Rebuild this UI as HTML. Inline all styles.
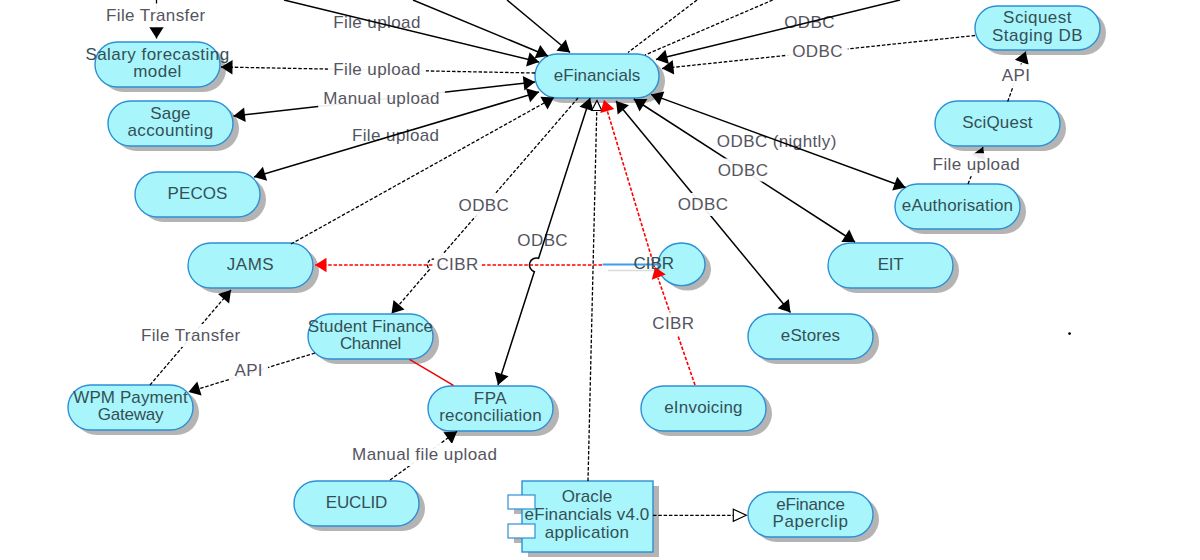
<!DOCTYPE html>
<html><head><meta charset="utf-8"><style>
html,body{margin:0;padding:0;background:#fff;width:1200px;height:560px;overflow:hidden}
svg{display:block}
text{font-family:"Liberation Sans",sans-serif;font-size:17px;stroke-width:0px}
</style></head><body>
<svg width="1200" height="560" viewBox="0 0 1200 560">
<rect width="1200" height="560" fill="#fff"/>
<rect x="101" y="47" width="125" height="45" rx="22.5" ry="22.5" fill="#b4b4b4"/>
<rect x="114" y="106" width="125" height="45" rx="22.5" ry="22.5" fill="#b4b4b4"/>
<rect x="141" y="177" width="125" height="45" rx="22.5" ry="22.5" fill="#b4b4b4"/>
<rect x="194" y="248" width="125" height="45" rx="22.5" ry="22.5" fill="#b4b4b4"/>
<rect x="74" y="390" width="125" height="45" rx="22.5" ry="22.5" fill="#b4b4b4"/>
<rect x="314" y="319" width="125" height="45" rx="22.5" ry="22.5" fill="#b4b4b4"/>
<rect x="434" y="391" width="125" height="45" rx="22.5" ry="22.5" fill="#b4b4b4"/>
<rect x="300" y="486" width="125" height="45" rx="22.5" ry="22.5" fill="#b4b4b4"/>
<rect x="541" y="59" width="124" height="44" rx="22.0" ry="22.0" fill="#b4b4b4"/>
<rect x="647" y="391" width="125" height="45" rx="22.5" ry="22.5" fill="#b4b4b4"/>
<rect x="754" y="319" width="125" height="45" rx="22.5" ry="22.5" fill="#b4b4b4"/>
<rect x="834" y="248" width="125" height="45" rx="22.5" ry="22.5" fill="#b4b4b4"/>
<rect x="901" y="189" width="125" height="45" rx="22.5" ry="22.5" fill="#b4b4b4"/>
<rect x="941" y="106" width="125" height="45" rx="22.5" ry="22.5" fill="#b4b4b4"/>
<rect x="981" y="11" width="125" height="44" rx="22.0" ry="22.0" fill="#b4b4b4"/>
<rect x="754" y="497" width="125" height="45" rx="22.5" ry="22.5" fill="#b4b4b4"/>
<ellipse cx="687.5" cy="269.3" rx="23.5" ry="21.3" fill="#b4b4b4"/>
<rect x="528" y="486" width="131" height="71" fill="#b4b4b4"/>
<rect x="514" y="500" width="27" height="14" fill="#b4b4b4"/>
<rect x="514" y="529" width="27" height="14" fill="#b4b4b4"/>
<rect x="95" y="42" width="125" height="45" rx="22.5" ry="22.5" fill="#a8f6fc" stroke="#2d8fd5" stroke-width="1.4"/>
<rect x="108" y="101" width="125" height="45" rx="22.5" ry="22.5" fill="#a8f6fc" stroke="#2d8fd5" stroke-width="1.4"/>
<rect x="135" y="172" width="125" height="45" rx="22.5" ry="22.5" fill="#a8f6fc" stroke="#2d8fd5" stroke-width="1.4"/>
<rect x="188" y="243" width="125" height="45" rx="22.5" ry="22.5" fill="#a8f6fc" stroke="#2d8fd5" stroke-width="1.4"/>
<rect x="68" y="385" width="125" height="45" rx="22.5" ry="22.5" fill="#a8f6fc" stroke="#2d8fd5" stroke-width="1.4"/>
<rect x="308" y="314" width="125" height="45" rx="22.5" ry="22.5" fill="#a8f6fc" stroke="#2d8fd5" stroke-width="1.4"/>
<rect x="428" y="386" width="125" height="45" rx="22.5" ry="22.5" fill="#a8f6fc" stroke="#2d8fd5" stroke-width="1.4"/>
<rect x="294" y="481" width="125" height="45" rx="22.5" ry="22.5" fill="#a8f6fc" stroke="#2d8fd5" stroke-width="1.4"/>
<rect x="535" y="54" width="124" height="44" rx="22.0" ry="22.0" fill="#a8f6fc" stroke="#2d8fd5" stroke-width="1.4"/>
<rect x="641" y="386" width="125" height="45" rx="22.5" ry="22.5" fill="#a8f6fc" stroke="#2d8fd5" stroke-width="1.4"/>
<rect x="748" y="314" width="125" height="45" rx="22.5" ry="22.5" fill="#a8f6fc" stroke="#2d8fd5" stroke-width="1.4"/>
<rect x="828" y="243" width="125" height="45" rx="22.5" ry="22.5" fill="#a8f6fc" stroke="#2d8fd5" stroke-width="1.4"/>
<rect x="895" y="184" width="125" height="45" rx="22.5" ry="22.5" fill="#a8f6fc" stroke="#2d8fd5" stroke-width="1.4"/>
<rect x="935" y="101" width="125" height="45" rx="22.5" ry="22.5" fill="#a8f6fc" stroke="#2d8fd5" stroke-width="1.4"/>
<rect x="975" y="6" width="125" height="44" rx="22.0" ry="22.0" fill="#a8f6fc" stroke="#2d8fd5" stroke-width="1.4"/>
<rect x="748" y="492" width="125" height="45" rx="22.5" ry="22.5" fill="#a8f6fc" stroke="#2d8fd5" stroke-width="1.4"/>
<ellipse cx="681.5" cy="264.3" rx="23.5" ry="21.3" fill="#a8f6fc" stroke="#2d8fd5" stroke-width="1.4"/>
<rect x="522" y="481" width="131" height="71" fill="#a8f6fc" stroke="#2d8fd5" stroke-width="1.4"/>
<rect x="508" y="495" width="27" height="14" fill="#fff" stroke="#2d8fd5" stroke-width="1.2"/>
<rect x="508" y="524" width="27" height="14" fill="#fff" stroke="#2d8fd5" stroke-width="1.2"/>
<path d="M413,0 L548,56" stroke="#000" stroke-width="1.5" fill="none"/>
<path d="M507,0 L570,52.5" stroke="#000" stroke-width="1.5" fill="none"/>
<path d="M535,73 L221,67" stroke="#000" stroke-width="1.3" fill="none" stroke-dasharray="3.5 1.8"/>
<path d="M535,82 L233.5,116" stroke="#000" stroke-width="1.5" fill="none"/>
<path d="M291,244 L554,97.5" stroke="#000" stroke-width="1.3" fill="none" stroke-dasharray="3.5 1.8"/>
<path d="M578,98 L437.40,260.46 A6,6 0 0 0 429.55,269.54 L391.5,313.5" stroke="#000" stroke-width="1.3" fill="none" stroke-dasharray="3.5 1.8"/>
<path d="M588,481 L597,100.4" stroke="#000" stroke-width="1.3" fill="none" stroke-dasharray="3.5 1.8"/>
<path d="M656,272 L604,100" stroke="#f00" stroke-width="1.6" fill="none" stroke-dasharray="3.5 1.8"/>
<path d="M695,385 L658,278" stroke="#f00" stroke-width="1.6" fill="none" stroke-dasharray="3.5 1.8"/>
<path d="M616,101 L790.5,312.5" stroke="#000" stroke-width="1.5" fill="none"/>
<path d="M633.8,99 L855,242" stroke="#000" stroke-width="1.5" fill="none"/>
<path d="M975,35.5 L662,68.5" stroke="#000" stroke-width="1.3" fill="none" stroke-dasharray="3.5 1.8"/>
<path d="M697,0 L628,52.5" stroke="#000" stroke-width="1.3" fill="none" stroke-dasharray="3.5 1.8"/>
<path d="M772.7,0 L645,55" stroke="#000" stroke-width="1.3" fill="none" stroke-dasharray="3.5 1.8"/>
<path d="M1007.7,101.6 L1025.7,51.4" stroke="#000" stroke-width="1.3" fill="none" stroke-dasharray="3.5 1.8"/>
<path d="M968,184 L983,147" stroke="#000" stroke-width="1.3" fill="none" stroke-dasharray="3.5 1.8"/>
<path d="M602,265 L315,265" stroke="#f00" stroke-width="1.6" fill="none" stroke-dasharray="3.5 1.8"/>
<path d="M608,270.5 L662,270.5" stroke="#dcdcdc" stroke-width="1.6"/>
<path d="M602.6,264.5 L658,264.5" stroke="#3aa0e8" stroke-width="2" fill="none"/>
<path d="M150,385 L231,290" stroke="#000" stroke-width="1.3" fill="none" stroke-dasharray="3.5 1.8"/>
<path d="M315,353 L188.5,392" stroke="#000" stroke-width="1.3" fill="none" stroke-dasharray="3.5 1.8"/>
<path d="M409.5,359.3 L453.4,385.4" stroke="#e00" stroke-width="1.4" fill="none"/>
<path d="M390,480 L457,431.4" stroke="#000" stroke-width="1.3" fill="none" stroke-dasharray="3.5 1.8"/>
<path d="M653,515.3 L733.5,515.3" stroke="#000" stroke-width="1.3" fill="none" stroke-dasharray="3.5 1.8"/>
<path d="M156.5,0 L156.5,38.6" stroke="#000" stroke-width="1.3" fill="none" stroke-dasharray="3.5 1.8"/>
<polygon points="597.0,100.4 601.8,110.5 591.8,110.3" fill="#fff" stroke="#000" stroke-width="1.2"/>
<polygon points="539.0,62.0 526.1,66.4 529.6,52.2" fill="#000"/>
<polygon points="548.0,56.0 534.6,58.3 540.2,44.9" fill="#000"/>
<polygon points="570.0,52.5 556.5,50.7 565.8,39.5" fill="#000"/>
<polygon points="221.0,67.0 232.6,59.9 232.4,74.5" fill="#000"/>
<polygon points="535.0,82.0 524.4,90.5 522.8,76.0" fill="#000"/>
<polygon points="233.5,116.0 244.1,107.5 245.7,122.0" fill="#000"/>
<polygon points="539.0,92.0 530.1,102.3 525.9,88.3" fill="#000"/>
<polygon points="254.0,177.0 262.9,166.7 267.1,180.7" fill="#000"/>
<polygon points="554.0,97.5 547.5,109.5 540.4,96.7" fill="#000"/>
<polygon points="391.5,313.5 393.5,300.0 404.5,309.6" fill="#000"/>
<polygon points="590.0,98.0 593.4,111.2 579.5,106.7" fill="#000"/>
<polygon points="498.0,385.0 494.6,371.8 508.5,376.3" fill="#000"/>
<polygon points="604.0,100.0 614.3,108.9 600.3,113.1" fill="#f00"/>
<polygon points="655.2,267.3 665.8,274.6 651.7,279.7" fill="#f00"/>
<polygon points="616.0,101.0 628.9,105.2 617.7,114.5" fill="#000"/>
<polygon points="790.5,312.5 777.6,308.3 788.8,299.0" fill="#000"/>
<polygon points="633.8,99.0 647.4,99.1 639.5,111.4" fill="#000"/>
<polygon points="855.0,242.0 841.4,241.9 849.3,229.6" fill="#000"/>
<polygon points="651.0,94.4 664.3,91.5 659.3,105.2" fill="#000"/>
<polygon points="905.5,187.5 892.2,190.4 897.2,176.7" fill="#000"/>
<polygon points="662.0,68.5 672.7,60.0 674.2,74.6" fill="#000"/>
<polygon points="656.0,59.5 665.4,49.7 668.9,63.9" fill="#000"/>
<polygon points="1025.7,51.4 1028.7,64.7 1014.9,59.8" fill="#000"/>
<polygon points="983.0,147.0 985.4,160.4 971.9,154.9" fill="#000"/>
<polygon points="315.0,265.0 326.5,257.7 326.5,272.3" fill="#f00"/>
<polygon points="231.0,290.0 229.1,303.5 218.0,294.0" fill="#000"/>
<polygon points="188.5,392.0 197.3,381.6 201.6,395.6" fill="#000"/>
<polygon points="457.0,431.4 452.0,444.1 443.4,432.2" fill="#000"/>
<polygon points="746.3,515.3 733.3,521.3 733.3,509.3" fill="#fff" stroke="#000" stroke-width="1.2"/>
<polygon points="156.5,38.6 149.2,27.1 163.8,27.1" fill="#000"/>
<text x="377" y="28" text-anchor="middle" fill="#55555f" letter-spacing="0.4">File upload</text>
<rect x="328.2" y="58" width="97.6" height="23" fill="#fff" fill-opacity="0.93"/>
<text x="377" y="75" text-anchor="middle" fill="#55555f" letter-spacing="0.4">File upload</text>
<rect x="318.2" y="87" width="126.7" height="23" fill="#fff" fill-opacity="0.93"/>
<text x="381.6" y="104" text-anchor="middle" fill="#55555f" letter-spacing="0.4">Manual upload</text>
<text x="395.7" y="140.6" text-anchor="middle" fill="#55555f" letter-spacing="0.4">File upload</text>
<rect x="453.5" y="193.8" width="60.7" height="23" fill="#fff" fill-opacity="0.93"/>
<text x="483.9" y="210.8" text-anchor="middle" fill="#55555f" letter-spacing="0.4">ODBC</text>
<text x="542.7" y="245.7" text-anchor="middle" fill="#55555f" letter-spacing="0.4">ODBC</text>
<rect x="647.3" y="312.3" width="52.2" height="23" fill="#fff" fill-opacity="0.93"/>
<text x="673.4" y="329.3" text-anchor="middle" fill="#55555f" letter-spacing="0.4">CIBR</text>
<rect x="672.6" y="193" width="60.7" height="23" fill="#fff" fill-opacity="0.93"/>
<text x="703" y="210" text-anchor="middle" fill="#55555f" letter-spacing="0.4">ODBC</text>
<rect x="712.6" y="158.5" width="60.7" height="23" fill="#fff" fill-opacity="0.93"/>
<text x="743" y="175.5" text-anchor="middle" fill="#55555f" letter-spacing="0.4">ODBC</text>
<text x="776.8" y="146.6" text-anchor="middle" fill="#55555f" letter-spacing="0.4">ODBC (nightly)</text>
<rect x="787.1" y="40" width="60.7" height="23" fill="#fff" fill-opacity="0.93"/>
<text x="817.5" y="57" text-anchor="middle" fill="#55555f" letter-spacing="0.4">ODBC</text>
<text x="809.6" y="27.7" text-anchor="middle" fill="#55555f" letter-spacing="0.4">ODBC</text>
<rect x="996.7" y="64.4" width="38.6" height="23" fill="#fff" fill-opacity="0.93"/>
<text x="1016" y="81.4" text-anchor="middle" fill="#55555f" letter-spacing="0.4">API</text>
<rect x="927.6" y="153.2" width="97.6" height="23" fill="#fff" fill-opacity="0.93"/>
<text x="976.4" y="170.2" text-anchor="middle" fill="#55555f" letter-spacing="0.4">File upload</text>
<rect x="433.9" y="253" width="47.2" height="23" fill="#fff" fill-opacity="0.93"/>
<text x="457.5" y="270" text-anchor="middle" fill="#55555f" letter-spacing="0.4">CIBR</text>
<rect x="135.9" y="324" width="109.7" height="23" fill="#fff" fill-opacity="0.93"/>
<text x="190.75" y="341" text-anchor="middle" fill="#55555f" letter-spacing="0.4">File Transfer</text>
<rect x="229.4" y="359.3" width="38.6" height="23" fill="#fff" fill-opacity="0.93"/>
<text x="248.7" y="376.3" text-anchor="middle" fill="#55555f" letter-spacing="0.4">API</text>
<rect x="347.1" y="443" width="155.2" height="23" fill="#fff" fill-opacity="0.93"/>
<text x="424.7" y="460" text-anchor="middle" fill="#55555f" letter-spacing="0.4">Manual file upload</text>
<rect x="101.0" y="4.300000000000001" width="109.7" height="23" fill="#fff" fill-opacity="0.93"/>
<text x="155.8" y="21.3" text-anchor="middle" fill="#55555f" letter-spacing="0.4">File Transfer</text>
<path d="M284,0 L539,62" stroke="#000" stroke-width="1.5" fill="none"/>
<path d="M539,92 L254,177" stroke="#000" stroke-width="1.5" fill="none"/>
<path d="M590,98 L538.60,258.33 A7,7 0 0 0 534.33,271.67 L498,385" stroke="#000" stroke-width="1.5" fill="none"/>
<path d="M651,94.4 L905.5,187.5" stroke="#000" stroke-width="1.5" fill="none"/>
<path d="M900,0 L656,59.5" stroke="#000" stroke-width="1.5" fill="none"/>
<text x="157.5" y="59.5" text-anchor="middle" fill="#354f55" letter-spacing="0.45">Salary forecasting</text>
<text x="157.5" y="77.2" text-anchor="middle" fill="#354f55" letter-spacing="0.45">model</text>
<text x="170.5" y="118.5" text-anchor="middle" fill="#354f55" letter-spacing="0.2">Sage</text>
<text x="170.5" y="136.2" text-anchor="middle" fill="#354f55" letter-spacing="0.4">accounting</text>
<text x="197.5" y="199.2" text-anchor="middle" fill="#354f55" letter-spacing="0.05">PECOS</text>
<text x="250.5" y="270.2" text-anchor="middle" fill="#354f55" letter-spacing="0.5">JAMS</text>
<text x="130.5" y="402.5" text-anchor="middle" fill="#354f55" letter-spacing="0.1">WPM Payment</text>
<text x="130.5" y="420.2" text-anchor="middle" fill="#354f55" letter-spacing="-0.2">Gateway</text>
<text x="370.5" y="331.5" text-anchor="middle" fill="#354f55" letter-spacing="0.1">Student Finance</text>
<text x="370.5" y="349.2" text-anchor="middle" fill="#354f55" letter-spacing="-0.3">Channel</text>
<text x="490.5" y="403.5" text-anchor="middle" fill="#354f55" letter-spacing="0.5">FPA</text>
<text x="490.5" y="421.2" text-anchor="middle" fill="#354f55" letter-spacing="0.25">reconciliation</text>
<text x="356.5" y="508.2" text-anchor="middle" fill="#354f55" letter-spacing="-0.15">EUCLID</text>
<text x="597.0" y="80.7" text-anchor="middle" fill="#354f55" letter-spacing="0.05">eFinancials</text>
<text x="703.5" y="413.2" text-anchor="middle" fill="#354f55" letter-spacing="0.2">eInvoicing</text>
<text x="810.5" y="341.2" text-anchor="middle" fill="#354f55" letter-spacing="0.1">eStores</text>
<text x="890.5" y="270.2" text-anchor="middle" fill="#354f55" letter-spacing="-0.3">EIT</text>
<text x="957.5" y="211.2" text-anchor="middle" fill="#354f55" letter-spacing="0.2">eAuthorisation</text>
<text x="997.5" y="128.2" text-anchor="middle" fill="#354f55" letter-spacing="0.2">SciQuest</text>
<text x="1037.5" y="23.0" text-anchor="middle" fill="#354f55" letter-spacing="0.45">Sciquest</text>
<text x="1037.5" y="40.7" text-anchor="middle" fill="#354f55" letter-spacing="0.5">Staging DB</text>
<text x="810.5" y="509.5" text-anchor="middle" fill="#354f55" letter-spacing="-0.2">eFinance</text>
<text x="810.5" y="527.2" text-anchor="middle" fill="#354f55" letter-spacing="0.55">Paperclip</text>
<text x="653.7" y="269.4" text-anchor="middle" fill="#354f55">CIBR</text>
<text x="587" y="502" text-anchor="middle" fill="#354f55" letter-spacing="0.1">Oracle</text>
<text x="587" y="520.2" text-anchor="middle" fill="#354f55" letter-spacing="0.12">eFinancials v4.0</text>
<text x="587" y="538.2" text-anchor="middle" fill="#354f55" letter-spacing="0.3">application</text>
<circle cx="1069.6" cy="333.6" r="1.4" fill="#000"/>
</svg></body></html>
